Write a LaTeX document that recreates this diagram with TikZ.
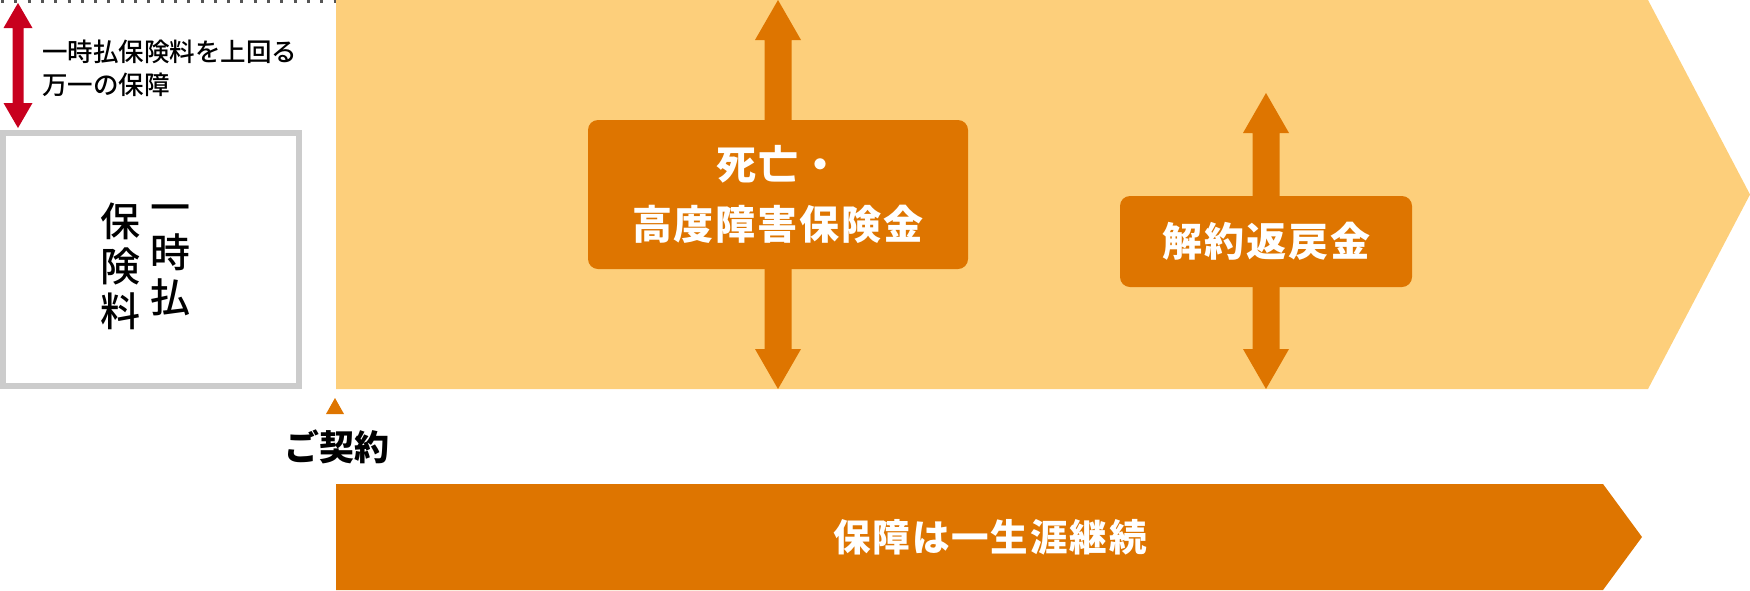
\documentclass[tikz,border=0pt]{standalone}
\usepackage{fontspec}
\setmainfont{Noto Sans CJK JP}
\newfontfamily\spacedfont{Noto Sans CJK JP}[LetterSpace=5]
\newfontfamily\medfont{Noto Sans CJK JP Medium}
\definecolor{lightor}{HTML}{FDCF7B}
\definecolor{darkor}{HTML}{DE7500}
\definecolor{redar}{HTML}{C8001E}
\definecolor{grayb}{HTML}{CCCCCC}
\definecolor{dotgray}{HTML}{555555}
\tikzset{
  payout/.style={fill=darkor, rounded corners=10pt, inner sep=0pt, text=white, align=center,
    font=\spacedfont\bfseries\fontsize{40}{60}\selectfont},
  vtext/.style={inner sep=0pt, align=center, font=\medfont\fontsize{40}{45}\selectfont},
}
\begin{document}
\begin{tikzpicture}[x=1pt,y=-1pt]
\useasboundingbox (0,0) rectangle (1750,590);
% dotted line on top
\draw[dotgray, line width=3pt, dash pattern=on 3pt off 10.3pt] (1,1.5) -- (336,1.5);
% big band
\fill[lightor] (336,0) -- (1648,0) -- (1750,194.5) -- (1648,389) -- (336,389) -- cycle;
% bottom band
\fill[darkor] (336,484) -- (1603,484) -- (1642,537) -- (1603,590) -- (336,590) -- cycle;
\node[inner sep=0pt, text=white, font=\spacedfont\bfseries\fontsize{37.5}{40}\selectfont] (life) at (990,537) {保障は一生涯継続};
% red double arrow
\fill[redar] (18,3) -- (32.5,28) -- (23.5,28) -- (23.5,103) -- (32.5,103) -- (18,128) -- (3.5,103) -- (12.5,103) -- (12.5,28) -- (3.5,28) -- cycle;
\node[anchor=west, inner sep=0pt, align=left, font=\medfont\fontsize{25.5}{33}\selectfont] (excess) at (42,68.5) {一時払保険料を上回る\\万一の保障};
% gray box
\draw[grayb, line width=6pt] (3,133) rectangle (299,386);
\node[vtext] (colA) at (170,260) {一\\時\\払};
\node[vtext] (colB) at (120,266) {保\\険\\料};
% contract marker
\fill[darkor] (326,414) -- (344,414) -- (335,398) -- cycle;
\node[inner sep=0pt, font=\bfseries\fontsize{35}{40}\selectfont] (contract) at (337,447) {ご契約};
% arrow 1
\fill[darkor] (778,0) -- (801,40) -- (791.5,40) -- (791.5,349) -- (801,349) -- (778,389) -- (755,349) -- (764.5,349) -- (764.5,40) -- (755,40) -- cycle;
% arrow 2
\fill[darkor] (1266,93) -- (1289,133) -- (1279.5,133) -- (1279.5,349) -- (1289,349) -- (1266,389) -- (1243,349) -- (1252.5,349) -- (1252.5,133) -- (1243,133) -- cycle;
% boxes
\node[payout, minimum width=380pt, minimum height=149pt] (death) at (778,194.5) {死亡・\\高度障害保険金};
\node[payout, minimum width=292pt, minimum height=91pt] (surr) at (1266,241.5) {解約返戻金};
\end{tikzpicture}
\end{document}
